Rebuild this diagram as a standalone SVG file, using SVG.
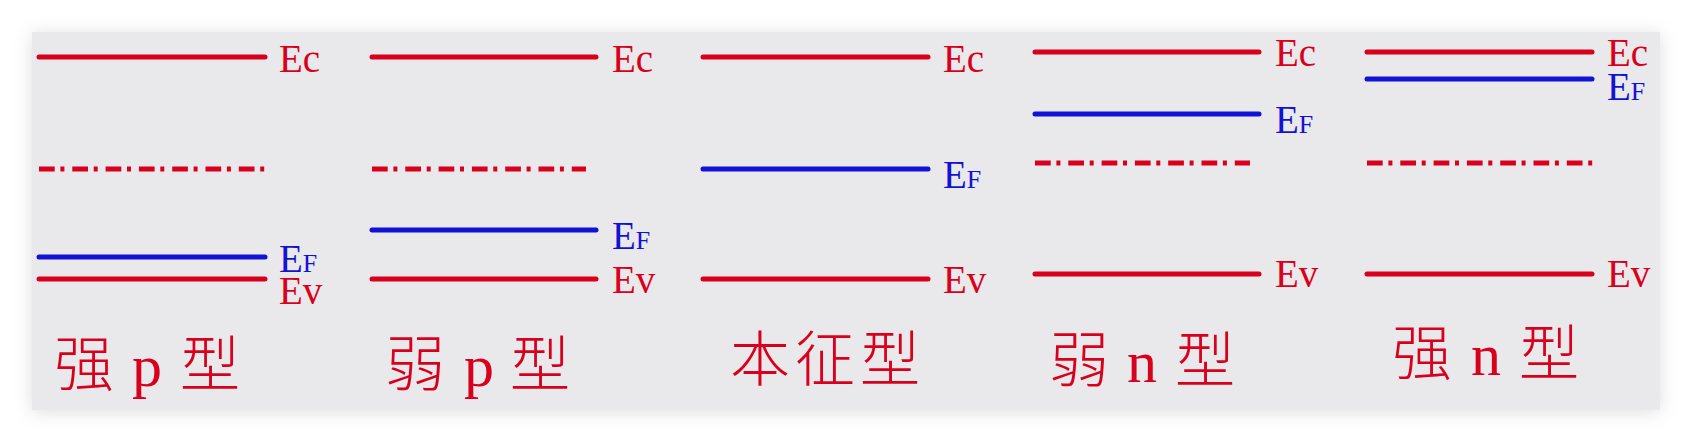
<svg xmlns="http://www.w3.org/2000/svg" width="1692" height="443" viewBox="0 0 1692 443">
<defs>
<filter id="sh" x="-5%" y="-20%" width="110%" height="140%">
<feDropShadow dx="0" dy="2" stdDeviation="9" flood-color="#000" flood-opacity="0.13"/>
</filter>
<style>
.r{stroke:#d8001c;stroke-width:5;stroke-linecap:round;fill:none}
.b{stroke:#1212d6;stroke-width:5;stroke-linecap:round;fill:none}
.d{stroke:#d8001c;stroke-width:5;stroke-linecap:butt;stroke-dasharray:15.7 5.7 4 7.9;fill:none}
.tr{fill:#d8001c;font-family:"Liberation Serif","Times New Roman",serif;font-size:39px}
.tb{fill:#1212d6;font-family:"Liberation Serif","Times New Roman",serif;font-size:39px}
.sm{font-size:26px}
.lab{fill:#d8001c;font-family:"Liberation Serif","Noto Sans CJK SC",serif;font-size:60px}
.cjk{font-family:"Noto Sans CJK SC",sans-serif;font-weight:300}
</style>
</defs>
<rect width="1692" height="443" fill="#ffffff"/>
<rect x="32" y="32" width="1628" height="378" fill="#e9e8ea" filter="url(#sh)"/>

<g id="strong-p">
<line class="r" x1="39" y1="57" x2="265" y2="57"/>
<line class="d" x1="39" y1="169" x2="266" y2="169"/>
<line class="b" x1="39" y1="257" x2="265" y2="257"/>
<line class="r" x1="39" y1="279" x2="265" y2="279"/>
<text class="tr" x="279" y="72">Ec</text>
<text class="tb" x="279" y="272">E<tspan class="sm">F</tspan></text>
<text class="tr" x="279" y="304">Ev</text>
<text class="lab" y="386"><tspan class="cjk" x="54">强</tspan><tspan x="132">p</tspan><tspan class="cjk" x="180">型</tspan></text>
</g>

<g id="weak-p">
<line class="r" x1="372" y1="57" x2="596" y2="57"/>
<line class="d" x1="372" y1="169" x2="586" y2="169"/>
<line class="b" x1="372" y1="230" x2="596" y2="230"/>
<line class="r" x1="372" y1="279" x2="596" y2="279"/>
<text class="tr" x="612" y="72">Ec</text>
<text class="tb" x="612" y="249">E<tspan class="sm">F</tspan></text>
<text class="tr" x="612" y="293">Ev</text>
<text class="lab" y="386"><tspan class="cjk" x="385">弱</tspan><tspan x="464">p</tspan><tspan class="cjk" x="510">型</tspan></text>
</g>

<g id="intrinsic">
<line class="r" x1="703" y1="57" x2="928" y2="57"/>
<line class="b" x1="703" y1="169" x2="928" y2="169"/>
<line class="r" x1="703" y1="279" x2="928" y2="279"/>
<text class="tr" x="943" y="72">Ec</text>
<text class="tb" x="943" y="188">E<tspan class="sm">F</tspan></text>
<text class="tr" x="943" y="293">Ev</text>
<text class="lab" y="381"><tspan class="cjk" x="730">本</tspan><tspan class="cjk" x="795">征</tspan><tspan class="cjk" x="860">型</tspan></text>
</g>

<g id="weak-n">
<line class="r" x1="1035" y1="52" x2="1259" y2="52"/>
<line class="b" x1="1035" y1="114" x2="1259" y2="114"/>
<line class="d" x1="1035" y1="163" x2="1250" y2="163"/>
<line class="r" x1="1035" y1="274" x2="1259" y2="274"/>
<text class="tr" x="1275" y="66">Ec</text>
<text class="tb" x="1275" y="133">E<tspan class="sm">F</tspan></text>
<text class="tr" x="1275" y="287">Ev</text>
<text class="lab" y="382"><tspan class="cjk" x="1049">弱</tspan><tspan x="1127">n</tspan><tspan class="cjk" x="1175">型</tspan></text>
</g>

<g id="strong-n">
<line class="r" x1="1367" y1="52" x2="1592" y2="52"/>
<line class="b" x1="1367" y1="79" x2="1592" y2="79"/>
<line class="d" x1="1367" y1="163" x2="1594" y2="163"/>
<line class="r" x1="1367" y1="274" x2="1592" y2="274"/>
<text class="tr" x="1607" y="66">Ec</text>
<text class="tb" x="1607" y="100">E<tspan class="sm">F</tspan></text>
<text class="tr" x="1607" y="287">Ev</text>
<text class="lab" y="375"><tspan class="cjk" x="1392">强</tspan><tspan x="1471">n</tspan><tspan class="cjk" x="1519">型</tspan></text>
</g>

<g id="connectors"/>
</svg>
